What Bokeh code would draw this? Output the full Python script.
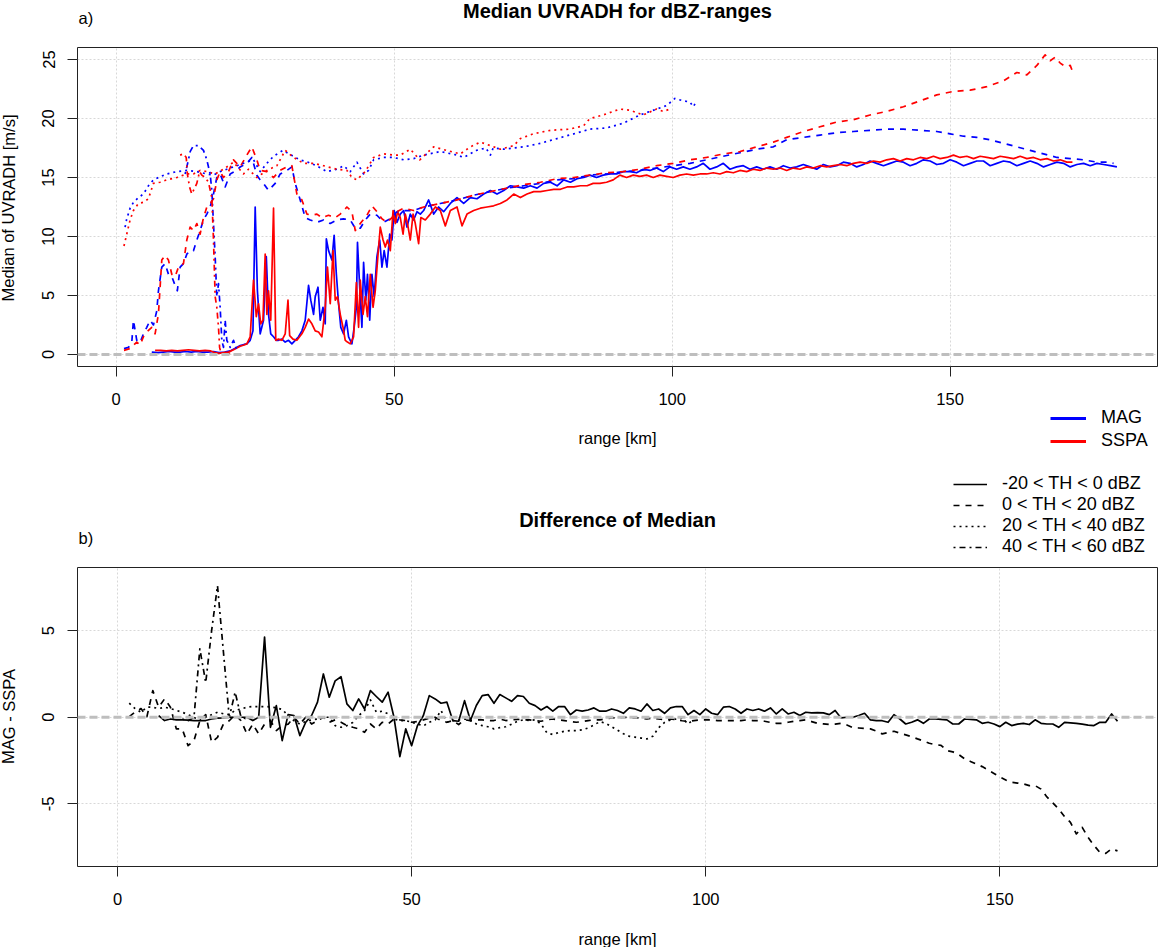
import numpy as np
from bokeh.plotting import figure
from bokeh.models import Range1d, FixedTicker, Label, Legend, LegendItem, Span
from bokeh.layouts import column, row
from bokeh.embed import file_html
from bokeh.resources import INLINE

FONT = "Liberation Sans"
BASE = "16.5px"
LEGF = "18px"
TITLE = "20px"
LINE_W = 1.7

# ---------------- panel a) : median UVRADH [m/s] vs range [km] ----------------
MAG_SOLID = [(6.4,0.2),(7.5,0.15),(8.5,0.2),(9.5,0.25),(10.5,0.2),(11.5,0.2),(12.5,0.25),(13.5,0.2),(14.5,0.25),(15.5,0.2),
    (16.5,0.2),(17.5,0.25),(18.5,0.15),(19.5,0.2),(20.5,0.3),(21.5,0.55),(22.3,0.75),(23.0,0.85),(23.5,0.9),(24.1,1.2),
    (24.6,2.0),(25.0,12.5),(25.4,5.4),(25.9,1.75),(26.5,2.9),(27.0,8.3),(27.4,3.4),(27.8,1.75),(28.3,1.5),(28.8,1.2),
    (29.2,1.2),(29.8,1.3),(30.4,1.05),(31.0,1.2),(31.6,0.9),(32.2,1.2),(32.8,1.5),(33.4,2.0),(34.0,2.9),(34.6,5.85),
    (35.0,4.6),(35.5,3.4),(35.8,4.9),(36.3,5.7),(36.7,2.9),(37.2,4.0),(37.6,2.6),(37.8,9.8),(38.2,8.8),(38.8,8.0),
    (39.2,10.1),(39.6,6.8),(40.0,4.3),(40.4,2.3),(40.9,1.75),(41.4,2.9),(41.8,1.5),(42.4,0.9),(42.8,2.3),(43.2,4.0),
    (43.4,9.5),(43.8,5.7),(44.2,2.3),(44.5,7.8),(44.9,4.6),(45.2,6.8),(45.6,2.9),(46.0,6.8),(46.4,4.9),(46.9,8.3),
    (47.4,9.7),(47.8,7.4),(48.2,8.8),(48.7,7.4),(49.2,10.2),(49.6,9.7),(50.0,12.2),(50.5,11.2),(51.1,11.9),(51.7,12.2),
    (52.3,10.8),(52.9,11.9),(53.5,11.4),(54.1,12.1),(54.7,11.9),(55.3,12.2),(56.2,13.1),(57.1,11.9),(58.0,12.5),(58.9,12.1),
    (60.1,12.8),(61.3,13.3),(62.5,12.8),(63.7,13.3),(64.9,13.2),(66.1,13.6),(67.3,13.9),(68.5,13.6),(69.7,13.9),(70.9,14.3),
    (72.1,14.2),(73.3,14.1),(74.5,14.3),(75.7,14.1),(76.9,14.5),(78.1,14.6),(79.3,14.3),(80.5,14.8),(81.7,14.6),(82.9,14.9),
    (84.1,15.0),(85.2,15.2),(86.4,15.0),(87.6,15.2),(88.8,15.3),(90.0,15.3),(91.2,15.5),(92.4,15.5),(93.6,15.4),(94.8,15.7),
    (96.0,15.6),(97.2,15.8),(98.4,15.5),(99.6,15.9),(100.8,15.7),(102.0,15.9),(103.2,15.7),(104.4,15.9),(105.6,16.2),(106.8,15.7),
    (108.0,15.9),(109.2,16.2),(110.4,15.7),(111.6,15.9),(112.8,16.0),(114.0,15.7),(115.2,15.9),(116.4,15.7),(117.6,15.9),(118.8,15.7),
    (120.0,16.0),(121.2,15.8),(122.4,15.9),(123.6,16.1),(124.8,15.9),(126.0,15.7),(127.2,16.1),(128.4,15.9),(129.6,16.0),(130.8,16.3),
    (132.0,16.2),(133.2,15.9),(134.4,16.1),(135.6,16.4),(136.8,16.2),(138.0,16.0),(139.2,16.2),(140.4,16.4),(141.6,16.3),(142.8,16.0),
    (144.0,16.2),(145.2,16.5),(146.4,16.4),(147.6,16.1),(148.8,16.2),(150.0,16.5),(151.2,16.3),(152.4,16.0),(153.6,16.2),(154.8,16.4),
    (156.0,16.4),(157.2,16.0),(158.4,16.2),(159.6,16.4),(160.8,16.3),(162.0,16.0),(163.2,16.2),(164.4,16.4),(165.6,16.2),(166.8,15.9),
    (168.0,16.1),(169.2,16.3),(170.4,16.2),(171.6,15.9),(172.8,16.1),(174.0,16.2),(175.2,16.0),(176.4,16.2),(177.6,16.1),(178.8,16.0),
    (180.0,15.9)]

SSPA_SOLID = [(7.0,0.35),(8.0,0.35),(9.0,0.3),(10.0,0.35),(11.0,0.3),(12.0,0.35),(13.0,0.4),(14.0,0.35),(15.0,0.3),(16.0,0.35),
    (17.0,0.3),(17.8,0.15),(18.5,0.1),(19.3,0.15),(20.2,0.2),(21.1,0.4),(22.3,0.7),(23.0,0.8),(23.5,0.9),(24.1,1.5),
    (24.7,6.3),(25.2,3.2),(25.6,4.3),(26.0,2.6),(26.4,2.9),(26.8,8.5),(27.1,3.4),(27.4,5.4),(27.8,2.9),(28.3,12.4),
    (28.7,1.2),(29.2,1.3),(29.8,1.2),(30.4,1.75),(30.9,4.6),(31.2,1.6),(31.8,1.3),(32.5,1.2),(33.4,1.75),(34.0,2.3),
    (34.6,3.0),(35.2,2.6),(35.8,2.0),(36.4,1.9),(37.0,1.5),(37.6,4.0),(38.0,7.4),(38.5,4.3),(39.0,8.8),(39.4,4.6),
    (39.8,4.9),(40.3,3.4),(40.8,2.3),(41.2,1.2),(41.6,1.05),(42.1,0.9),(42.7,1.5),(43.2,6.1),(43.6,2.3),(43.9,6.3),
    (44.4,3.4),(44.8,4.9),(45.2,3.2),(45.7,6.8),(46.2,4.0),(46.6,5.4),(47.1,8.5),(47.5,10.8),(48.0,9.7),(48.4,9.1),
    (48.8,9.7),(49.3,8.8),(49.8,12.2),(50.2,11.1),(50.6,12.1),(51.1,11.6),(51.6,10.2),(52.0,11.9),(52.4,11.1),(52.9,9.7),
    (53.4,11.9),(53.8,11.1),(54.4,9.4),(54.8,11.6),(55.6,11.4),(56.5,11.9),(57.4,12.5),(58.3,12.2),(59.2,10.9),(60.1,12.2),
    (61.3,12.5),(62.2,10.9),(63.1,11.9),(64.3,12.2),(65.5,12.4),(66.7,12.5),(67.9,12.6),(69.1,12.8),(70.3,13.1),(71.5,13.6),
    (72.7,13.3),(73.9,13.6),(75.1,13.8),(76.3,13.8),(77.5,13.9),(78.7,14.0),(79.9,14.0),(81.1,14.2),(82.3,14.2),(83.5,14.3),
    (84.7,14.3),(85.8,14.5),(87.0,14.5),(88.2,14.6),(89.4,14.8),(90.6,15.2),(91.8,15.0),(93.0,15.2),(94.2,15.1),(95.4,15.2),
    (96.6,15.0),(97.8,15.2),(99.0,15.1),(100.2,15.0),(101.4,15.2),(102.6,15.3),(103.8,15.2),(105.0,15.3),(106.2,15.3),(107.4,15.4),
    (108.6,15.3),(109.8,15.5),(111.0,15.4),(112.2,15.6),(113.4,15.5),(114.6,15.7),(115.8,15.6),(117.0,15.8),(118.2,15.7),(119.4,15.8),
    (120.6,15.6),(121.8,15.8),(123.0,15.7),(124.2,15.9),(125.4,15.8),(126.6,16.0),(127.8,15.9),(129.0,16.0),(130.2,16.1),(131.4,16.0),
    (132.6,16.2),(133.8,16.3),(135.0,16.2),(136.2,16.4),(137.4,16.3),(138.6,16.5),(139.8,16.6),(141.0,16.4),(142.2,16.6),(143.4,16.5),
    (144.6,16.7),(145.8,16.6),(147.0,16.8),(148.2,16.6),(149.4,16.7),(150.6,16.9),(151.8,16.7),(153.0,16.8),(154.2,16.6),(155.4,16.8),
    (156.6,16.7),(157.8,16.6),(159.0,16.8),(160.2,16.7),(161.4,16.6),(162.6,16.8),(163.8,16.6),(165.0,16.7),(166.2,16.5),(167.4,16.6),
    (168.6,16.4),(169.8,16.5),(171.0,16.3),(172.0,16.3)]

MAG_DASHED = [(1.4,0.5),(2.2,0.6),(2.8,1.0),(3.1,2.9),(3.7,1.2),(4.3,1.0),(4.9,1.75),(5.5,2.3),(6.1,2.9),(6.7,2.5),
    (7.3,3.7),(7.6,5.4),(8.2,7.4),(8.8,7.7),(9.4,6.8),(10.0,6.6),(10.6,5.85),(11.0,5.4),(11.5,7.4),(12.1,7.7),
    (12.7,8.5),(13.3,8.8),(13.9,8.8),(14.5,9.7),(15.1,10.5),(15.7,11.4),(16.3,11.9),(16.9,12.5),(17.5,13.6),(18.1,15.0),
    (18.7,15.3),(19.6,14.2),(20.5,15.3),(21.7,15.6),(22.3,15.9),(23.5,16.2),(24.4,16.7),(25.3,15.2),(25.9,14.8),(26.5,14.5),
    (27.4,13.9),(28.6,14.5),(29.5,15.3),(30.7,15.6),(31.6,15.9),(32.2,14.5),(33.1,13.1),(34.0,11.6),(34.9,11.4),(36.1,11.2),
    (37.3,11.4),(38.5,11.1),(39.7,11.4),(40.9,11.5),(42.1,11.4),(43.0,10.7),(43.9,10.7),(44.8,11.4),(45.7,11.9),(46.9,11.8),
    (48.1,11.2),(49.3,11.5),(50.5,12.1),(51.7,12.2),(53.5,12.2),(55.3,12.5),(58.3,12.8),(61.3,13.1),(64.3,13.5),(67.3,13.8),
    (70.3,14.1),(73.3,14.3),(76.3,14.5),(79.3,14.8),(82.3,14.9),(85.2,15.2),(88.2,15.3),(91.2,15.5),(94.2,15.6),(97.2,15.8),
    (100.2,16.0),(103.2,16.2),(106.2,16.5),(109.2,16.8),(112.2,17.1),(115.2,17.4),(118.2,17.6),(120.6,18.2),(123.6,18.4),(126.6,18.6),
    (129.6,18.8),(132.6,18.9),(135.6,19.0),(138.6,19.1),(141.6,19.1),(144.6,19.0),(147.6,18.9),(150.0,18.7),(152.4,18.5),(154.8,18.4),
    (157.2,18.2),(159.6,17.9),(162.0,17.6),(164.4,17.3),(166.8,17.0),(169.2,16.7),(171.6,16.6),(174.0,16.5),(176.4,16.3),(178.2,16.3),
    (179.4,16.2)]

SSPA_DASHED = [(1.4,0.35),(2.5,0.5),(3.7,1.05),(4.3,0.8),(4.9,1.5),(5.5,1.9),(6.4,2.3),(7.0,1.75),(7.6,3.45),(8.2,8.0),
    (8.8,8.4),(9.4,8.0),(10.0,6.8),(10.6,6.6),(11.2,7.4),(12.1,7.7),(12.7,9.7),(13.3,10.8),(13.9,10.5),(14.5,11.1),
    (15.1,10.2),(15.7,11.6),(16.3,12.5),(16.9,12.8),(17.5,13.2),(18.1,14.8),(18.7,15.5),(19.3,15.0),(20.2,15.5),(21.1,16.5),
    (22.3,15.9),(23.5,16.9),(24.4,17.6),(25.3,16.5),(25.9,15.6),(27.1,15.5),(28.3,15.0),(29.5,15.6),(30.7,15.9),(31.6,16.0),
    (32.5,13.6),(33.4,13.1),(34.3,11.9),(35.2,11.8),(36.1,11.9),(37.0,11.6),(38.2,11.8),(39.4,11.6),(40.3,11.9),(41.5,12.5),
    (42.4,12.1),(43.0,10.5),(43.9,11.1),(45.1,11.8),(46.0,12.6),(46.9,12.1),(47.8,11.5),(48.7,11.2),(49.6,11.6),(50.5,12.1),
    (51.7,12.4),(53.5,12.2),(55.3,12.5),(58.3,12.8),(61.3,13.1),(64.3,13.5),(67.3,13.8),(70.3,14.1),(73.3,14.4),(76.3,14.6),
    (79.3,14.9),(82.3,15.0),(85.2,15.2),(88.2,15.4),(91.2,15.5),(94.2,15.7),(97.2,16.0),(100.2,16.2),(103.2,16.5),(106.2,16.7),
    (109.2,17.0),(112.2,17.2),(115.2,17.6),(118.2,18.0),(120.6,18.4),(123.6,18.9),(126.6,19.3),(129.6,19.7),(132.6,19.9),(135.6,20.3),
    (138.6,20.6),(141.6,21.0),(144.6,21.5),(147.6,22.0),(150.6,22.3),(153.6,22.4),(156.6,22.7),(159.6,23.2),(162.0,23.9),(163.8,23.7),
    (165.6,24.5),(167.1,25.4),(168.0,24.9),(168.9,25.2),(169.8,24.7),(170.7,24.4),(171.6,24.5),(172.1,23.9)]

MAG_DOTTED = [(1.6,10.8),(1.9,11.5),(2.5,12.4),(3.1,12.9),(4.0,13.3),(4.9,13.6),(5.8,14.3),(6.7,14.8),(7.6,15.0),(9.1,15.3),
    (10.9,15.5),(12.7,15.6),(14.5,15.5),(16.3,15.3),(17.5,15.2),(18.7,15.5),(21.1,15.9),(23.5,16.3),(24.7,16.5),(25.9,15.5),
    (27.1,16.2),(28.3,16.8),(30.0,17.3),(31.5,16.9),(33.0,16.5),(34.5,16.3),(36.0,16.0),(37.9,15.5),(39.7,15.7),(40.9,16.0),
    (42.1,15.5),(43.3,16.3),(44.5,15.3),(45.4,15.6),(46.3,16.5),(48.1,16.7),(49.9,16.7),(51.7,16.5),(53.5,16.6),(55.3,16.9),
    (58.3,17.2),(61.3,16.9),(62.5,16.7),(64.8,17.3),(66.5,17.5),(67.3,16.9),(67.8,17.5),(69.7,17.4),(71.5,17.5),(73.3,17.6),
    (76.3,17.9),(79.3,18.3),(82.3,18.7),(85.2,19.1),(88.2,19.2),(91.2,19.6),(94.2,20.3),(97.2,20.8),(99.0,21.1),(100.5,21.7),
    (102.0,21.5),(103.2,21.4),(103.8,21.0),(104.3,21.4)]

SSPA_DOTTED = [(1.4,9.2),(1.9,10.2),(2.5,11.4),(3.1,12.2),(4.0,12.8),(4.9,12.9),(5.8,13.2),(6.7,14.5),(7.9,14.6),(9.1,14.8),
    (10.9,15.0),(12.7,15.3),(13.9,15.3),(15.1,15.6),(16.3,15.5),(17.8,15.3),(19.3,15.7),(21.1,16.3),(22.9,15.3),(23.8,15.7),
    (25.3,15.0),(27.1,15.6),(28.9,16.0),(30.4,17.3),(31.9,16.7),(33.7,16.2),(35.5,16.2),(37.3,16.0),(39.7,15.7),(41.5,15.6),
    (42.4,15.0),(43.3,14.8),(44.8,15.5),(46.3,16.7),(48.1,17.0),(49.9,16.9),(51.1,16.9),(52.9,17.4),(54.6,16.5),(57.1,17.6),
    (59.4,17.3),(61.9,17.0),(63.7,17.6),(65.5,18.0),(67.3,17.7),(69.1,17.4),(71.5,17.7),(72.7,18.3),(75.0,18.7),(78.1,19.0),
    (81.6,19.1),(84.1,19.4),(85.2,20.0),(87.6,20.3),(90.6,20.8),(92.4,20.7),(94.8,20.3),(97.2,20.8),(98.4,20.6),(99.6,20.8)]

MAG_DOTDASH = [(12.4,15.3),(13.0,16.5),(13.3,17.2),(13.9,17.7),(14.8,17.7),(15.7,17.3),(16.3,16.5),(16.9,15.3),(17.2,13.9),(17.5,11.1),
    (17.8,8.3),(18.1,4.9),(18.4,6.0),(18.7,4.0),(19.0,1.2),(19.3,0.6),(19.6,2.9),(19.9,1.2),(20.5,0.6),(21.1,1.2),(21.7,0.35)]

SSPA_DOTDASH = [(11.5,16.9),(12.1,17.0),(12.6,16.7),(12.8,15.3),(13.2,14.2),(13.6,13.6),(14.0,14.0),(14.5,14.5),(15.0,15.5),(15.4,15.2),
    (16.0,15.0),(16.6,14.6),(17.2,13.3),(17.5,9.7),(17.8,4.9),(18.1,4.0),(18.4,2.3),(18.6,0.6),(18.8,0.2),(19.5,0.1),(20.5,0.1)]

# ---------------- panel b) : MAG - SSPA, 1 km bins ----------------
DIFF_SOLID_KM = list(range(7, 171))
DIFF_SOLID = [0.1,-0.19,-0.1,-0.15,-0.15,-0.17,-0.19,-0.19,-0.19,-0.1,-0.05,-0.04,0.0,0.0,0.0,0.0,-0.19,0.0,4.63,-0.58,
    0.67,-1.35,0.15,0.1,-1.06,-0.29,0.1,0.87,2.5,1.16,2.1,2.34,0.77,0.39,1.06,0.48,1.54,1.2,0.87,1.45,
    0.0,-2.27,-0.67,-1.64,-0.48,0.1,1.25,1.06,0.81,0.87,-0.19,-0.23,0.96,-0.19,0.68,1.25,1.31,0.81,1.31,1.12,
    0.92,1.25,1.2,0.81,0.67,0.42,0.62,0.35,0.62,0.62,0.15,0.42,0.35,0.42,0.54,0.35,0.35,0.48,0.39,0.23,
    0.54,0.48,0.35,0.77,0.39,0.48,0.23,0.54,0.62,0.62,0.15,0.39,0.15,0.48,0.23,0.15,0.58,0.62,0.48,0.23,
    0.48,0.39,0.48,0.35,0.54,0.19,0.48,0.19,0.29,0.1,0.29,0.25,0.27,0.25,0.15,0.39,-0.04,0.0,0.0,0.1,
    0.23,-0.15,-0.19,-0.2,-0.29,0.15,-0.1,-0.39,-0.29,-0.15,-0.35,-0.1,-0.1,-0.12,-0.15,-0.39,-0.39,-0.1,-0.12,-0.15,
    -0.35,-0.29,-0.39,-0.54,-0.29,-0.48,-0.4,-0.35,-0.42,-0.15,-0.35,-0.39,-0.39,-0.58,-0.29,-0.32,-0.35,-0.4,-0.45,-0.48,
    -0.29,-0.29,0.19,-0.23]

DIFF_DASHED_KM = list(range(2, 171))
DIFF_DASHED = [0.04,0.3,0.5,0.04,1.54,0.58,1.06,0.58,-0.67,-0.67,-1.64,-1.35,-0.2,0.15,-1.45,-1.16,-0.4,-0.2,0.15,-0.2,
    -0.96,-0.4,-0.96,-0.4,-0.2,-0.77,-0.48,-0.4,0.0,-0.39,0.0,-0.39,-0.19,0.0,-0.29,-0.15,-0.29,-0.48,-0.58,-0.67,
    -0.87,-0.39,-0.67,-0.29,-0.39,-0.1,-0.15,-0.19,-0.29,-0.25,-0.15,-0.05,0.0,-0.19,-0.29,-0.19,-0.42,-0.15,-0.19,-0.15,
    -0.15,-0.19,-0.19,-0.1,-0.19,-0.15,-0.12,-0.15,-0.15,-0.19,-0.23,-0.15,-0.1,-0.15,-0.19,-0.25,-0.29,-0.25,-0.19,-0.15,
    -0.15,-0.1,-0.04,-0.04,0.0,-0.02,-0.04,-0.04,-0.1,-0.04,-0.1,-0.15,-0.1,-0.15,-0.2,-0.23,-0.19,-0.15,-0.15,-0.15,
    -0.19,-0.19,-0.19,-0.19,-0.19,-0.15,-0.19,-0.19,-0.23,-0.3,-0.35,-0.35,-0.29,-0.23,-0.19,-0.15,-0.25,-0.35,-0.38,-0.42,
    -0.4,-0.35,-0.45,-0.6,-0.62,-0.65,-0.67,-0.8,-0.96,-0.88,-0.81,-0.92,-1.02,-1.12,-1.25,-1.37,-1.5,-1.58,-1.62,-1.93,
    -2.0,-2.15,-2.4,-2.55,-2.7,-2.85,-3.04,-3.25,-3.45,-3.62,-3.76,-3.8,-3.85,-3.95,-3.95,-4.15,-4.6,-4.95,-5.3,-5.74,
    -6.07,-6.74,-6.36,-6.94,-7.4,-7.8,-7.86,-7.6,-7.72]

DIFF_DOTTED_KM = list(range(2, 99))
DIFF_DOTTED = [0.81,0.5,0.29,0.58,0.58,0.5,0.58,0.5,0.4,0.29,0.15,0.0,-0.19,0.0,0.15,0.29,0.2,0.15,0.4,0.48,
    0.58,0.62,0.62,0.62,0.6,0.55,0.45,0.1,-0.2,-0.39,-0.25,-0.15,-0.1,0.0,0.0,-0.48,-0.58,-0.48,-0.3,0.1,
    0.39,1.0,0.29,0.35,0.2,-0.1,-0.19,-0.19,-0.29,-0.39,-0.5,-0.29,-0.15,0.39,-0.29,-0.19,-0.15,-0.1,-0.19,-0.39,
    -0.48,-0.55,-0.67,-0.6,-0.55,-0.4,-0.23,-0.15,-0.19,-0.15,-0.39,-0.9,-1.0,-0.88,-0.81,-0.77,-0.77,-0.73,-0.62,-0.45,
    -0.25,-0.35,-0.55,-0.75,-0.95,-1.1,-1.15,-1.2,-1.25,-1.1,-0.6,-0.3,-0.15,-0.1,-0.05,-0.39,-0.1]

DIFF_DOTDASH_KM = list(range(11, 23))
DIFF_DOTDASH = [-0.1,-0.2,0.0,3.95,2.0,5.0,7.6,3.8,0.0,1.45,0.0,-0.1]

TOP_XTICKS = [0, 50, 100, 150]
TOP_YTICKS = [0, 5, 10, 15, 20, 25]
BOT_XTICKS = [0, 50, 100, 150]
BOT_YTICKS = [-5, 0, 5]
TH_LABELS = ["-20 < TH < 0 dBZ", "0 < TH < 20 dBZ", "20 < TH < 40 dBZ", "40 < TH < 60 dBZ"]
DASHES = ["solid", "6 6", "2 4", "2 4 6 4"]

# ---------------- layout geometry (pixels) ----------------
W = 1158
LW = 20                    # strip holding the y-axis titles
PW = W - LW
H_S0, H_P1, H_S1, H_P2, H_S2 = 46, 361, 159, 344, 37
P1_FRAME_BOTTOM = 366      # page y of panel a frame bottom (row aligns strip frames with it)
P2_FRAME_BOTTOM = 866
NAN = np.array([np.nan])   # legend-only renderers draw nothing in the strip


def strip(w, h):
    s = figure(width=w, height=h, x_range=Range1d(0, w), y_range=Range1d(0, h),
               x_axis_type=None, y_axis_type=None, output_backend="svg", toolbar_location=None,
               min_border=0, min_border_left=0, min_border_right=0, min_border_top=0, min_border_bottom=0)
    s.outline_line_color = None
    s.grid.visible = False
    s.background_fill_color = "white"
    s.border_fill_color = "white"
    return s


def text(p, s, x, y, size=BASE, bold=False, align="center", angle=0.0):
    p.add_layout(Label(x=x, y=y, x_units="screen", y_units="screen", text=s, text_font=FONT,
                       text_font_size=size, text_font_style="bold" if bold else "normal",
                       text_align=align, text_baseline="middle", angle=angle, text_color="black"))


def style(p, xt, yt, yover):
    p.outline_line_color = "#222222"
    p.outline_line_width = 1
    p.background_fill_color = "white"
    p.border_fill_color = "white"
    for ax in (p.xaxis[0], p.yaxis[0]):
        ax.axis_line_color = None
        ax.major_tick_line_color = "#222222"
        ax.major_tick_out = 10
        ax.major_tick_in = 0
        ax.minor_tick_line_color = None
        ax.major_label_text_font = FONT
        ax.major_label_text_font_size = BASE
        ax.major_label_text_color = "black"
    p.xaxis[0].major_label_standoff = 16
    p.yaxis[0].major_label_standoff = 13
    p.xaxis[0].ticker = FixedTicker(ticks=xt)
    p.yaxis[0].ticker = FixedTicker(ticks=yt)
    p.yaxis[0].major_label_orientation = "vertical"
    p.yaxis[0].major_label_overrides = yover
    p.xgrid[0].ticker = FixedTicker(ticks=xt)
    p.ygrid[0].ticker = FixedTicker(ticks=yt)
    for g in (p.xgrid[0], p.ygrid[0]):
        g.grid_line_color = "#d8d8d8"
        g.grid_line_dash = "2 2"
        g.grid_line_width = 1
    p.add_layout(Span(location=0, dimension="width", line_color="#bebebe", line_width=3, line_dash="8 4"))


def xy(pairs):
    return [a for a, b in pairs], [b for a, b in pairs]


def legend(items, loc, gw, gh, stand, spacing):
    return Legend(items=items, location=loc, padding=0, margin=0, spacing=spacing, glyph_width=gw,
                  glyph_height=gh, label_height=gh, label_standoff=stand, label_text_font=FONT,
                  label_text_font_size=LEGF, label_text_color="black",
                  border_line_color=None, background_fill_alpha=0)


# ---------------- title strip ----------------
s0 = strip(W, H_S0)
text(s0, "Median UVRADH for dBZ-ranges", 617, H_S0 - 10, size=TITLE, bold=True)
text(s0, "a)", 78, H_S0 - 17, align="left")

# ---------------- panel a ----------------
p1 = figure(width=PW, height=H_P1, x_range=Range1d(-6.96, 187.3), y_range=Range1d(-1.02, 26.02),
            output_backend="svg", toolbar_location=None, min_border_left=77 - LW, min_border_right=1,
            min_border_top=1, min_border_bottom=41)
style(p1, TOP_XTICKS, TOP_YTICKS, {v: str(v) for v in TOP_YTICKS})
series_top = [(MAG_SOLID, "blue", DASHES[0]), (SSPA_SOLID, "red", DASHES[0]),
              (MAG_DASHED, "blue", DASHES[1]), (SSPA_DASHED, "red", DASHES[1]),
              (MAG_DOTTED, "blue", DASHES[2]), (SSPA_DOTTED, "red", DASHES[2]),
              (MAG_DOTDASH, "blue", DASHES[3]), (SSPA_DOTDASH, "red", DASHES[3])]
for pairs, col, dash in series_top:
    xs, ys = xy(pairs)
    p1.line(xs, ys, line_color=col, line_width=LINE_W, line_dash=dash, line_join="round")

l1 = strip(LW, H_P1)
text(l1, "Median of UVRADH [m/s]", 8, P1_FRAME_BOTTOM - 207.5, angle=1.5707963)

# ---------------- middle strip: x title, legends, panel-b title ----------------
s1 = strip(W, H_S1)
S1_TOP = 46 + H_P1
S1_BOT = S1_TOP + H_S1
text(s1, "range [km]", 617, S1_BOT - 437)
text(s1, "Difference of Median", 617, S1_BOT - 519, size=TITLE, bold=True)
text(s1, "b)", 78, S1_BOT - 537, align="left")

r_mag = s1.line(NAN, NAN, line_color="blue", line_width=3)
r_sspa = s1.line(NAN, NAN, line_color="red", line_width=3)
leg1 = legend([LegendItem(label="MAG", renderers=[r_mag]), LegendItem(label="SSPA", renderers=[r_sspa])],
              (1050, S1_BOT - 451), 36, 20, 15, 2)
s1.add_layout(leg1, "center")

leg_r = [s1.line(NAN, NAN, line_color="black", line_width=LINE_W, line_dash=d) for d in DASHES]
leg2 = legend([LegendItem(label=t, renderers=[r]) for t, r in zip(TH_LABELS, leg_r)],
              (953, S1_BOT - 557), 34, 20, 15, 0)
s1.add_layout(leg2, "center")

# ---------------- panel b ----------------
p2 = figure(width=PW, height=H_P2, x_range=Range1d(-6.8, 176.8), y_range=Range1d(-8.62, 8.65),
            output_backend="svg", toolbar_location=None, min_border_left=77 - LW, min_border_right=1,
            min_border_top=1, min_border_bottom=44)
style(p2, BOT_XTICKS, BOT_YTICKS, {-5: "-5", 0: "0", 5: "5"})
series_bot = [(DIFF_SOLID_KM, DIFF_SOLID), (DIFF_DASHED_KM, DIFF_DASHED),
              (DIFF_DOTTED_KM, DIFF_DOTTED), (DIFF_DOTDASH_KM, DIFF_DOTDASH)]
for (xs, ys), dash in zip(series_bot, DASHES):
    p2.line(xs, ys, line_color="black", line_width=LINE_W, line_dash=dash, line_join="round")

l2 = strip(LW, H_P2)
P2_TOP = S1_BOT
text(l2, "MAG - SSPA", 8, P2_FRAME_BOTTOM - 716, angle=1.5707963)

# ---------------- bottom strip ----------------
s2 = strip(W, H_S2)
text(s2, "range [km]", 617, H_S2 - (938 - (P2_TOP + H_P2)))

layout = column(s0, row(l1, p1), s1, row(l2, p2), s2)
open("out.html", "w").write(file_html(layout, INLINE))
